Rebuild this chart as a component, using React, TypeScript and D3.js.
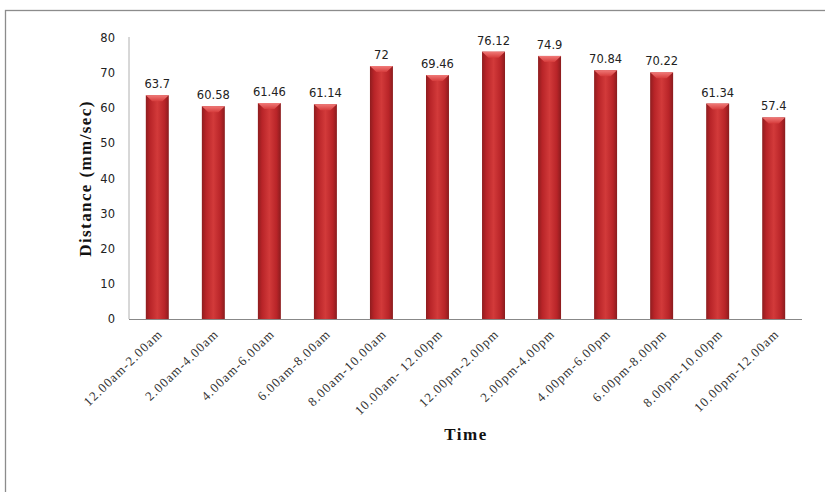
import React, { useEffect, useRef } from "react";
import * as d3 from "d3";

const timeSlots = [
  "12.00am-2.00am",
  "2.00am-4.00am",
  "4.00am-6.00am",
  "6.00am-8.00am",
  "8.00am-10.00am",
  "10.00am- 12.00pm",
  "12.00pm-2.00pm",
  "2.00pm-4.00pm",
  "4.00pm-6.00pm",
  "6.00pm-8.00pm",
  "8.00pm-10.00pm",
  "10.00pm-12.00am",
];
const distances = [63.7, 60.58, 61.46, 61.14, 72, 69.46, 76.12, 74.9, 70.84, 70.22, 61.34, 57.4];
const valueLabels = ["63.7", "60.58", "61.46", "61.14", "72", "69.46", "76.12", "74.9", "70.84", "70.22", "61.34", "57.4"];
const yTicks = [0, 10, 20, 30, 40, 50, 60, 70, 80];

export default function App() {
  const ref = useRef<SVGSVGElement>(null);

  useEffect(() => {
    const svg = d3.select(ref.current);
    svg.selectAll("*").remove();

    const left = 129;
    const right = 802;
    const top = 38;
    const bottom = 319;

    // frame around the chart
    svg
      .append("rect")
      .attr("x", 5.5)
      .attr("y", 10.5)
      .attr("width", 830)
      .attr("height", 500)
      .attr("fill", "#fff")
      .attr("stroke", "#8c8c8c")
      .attr("stroke-width", 1.3);

    const defs = svg.append("defs");
    const grad = defs
      .append("linearGradient")
      .attr("id", "barGrad")
      .attr("x1", "0")
      .attr("x2", "1")
      .attr("y1", "0")
      .attr("y2", "0");
    grad.append("stop").attr("offset", "0%").attr("stop-color", "#8e1d1f");
    grad.append("stop").attr("offset", "18%").attr("stop-color", "#b82428");
    grad.append("stop").attr("offset", "50%").attr("stop-color", "#d23a3a");
    grad.append("stop").attr("offset", "82%").attr("stop-color", "#b82428");
    grad.append("stop").attr("offset", "100%").attr("stop-color", "#8a1c1e");

    const capGrad = defs
      .append("linearGradient")
      .attr("id", "capGrad")
      .attr("x1", "0")
      .attr("x2", "0")
      .attr("y1", "0")
      .attr("y2", "1");
    capGrad.append("stop").attr("offset", "0%").attr("stop-color", "#f07a78");
    capGrad.append("stop").attr("offset", "100%").attr("stop-color", "#d63c3c");

    const x = d3.scaleBand().domain(timeSlots).range([left, right]).paddingInner(0.59).paddingOuter(0.3);
    const y = d3.scaleLinear().domain([0, 80]).range([bottom, top]);

    // y axis
    svg
      .append("line")
      .attr("x1", left)
      .attr("x2", left)
      .attr("y1", top - 1)
      .attr("y2", bottom)
      .attr("stroke", "#b0b0b0");

    svg
      .selectAll(".ytick")
      .data(yTicks)
      .enter()
      .append("text")
      .attr("x", left - 14)
      .attr("y", (d) => y(d) + 4)
      .attr("text-anchor", "end")
      .attr("font-family", "Tahoma, DejaVu Sans, sans-serif")
      .attr("font-size", 11.5)
      .attr("fill", "#222")
      .text((d) => d);

    // bars
    const g = svg.selectAll(".bar").data(distances).enter().append("g");
    g.append("rect")
      .attr("x", (_, i) => x(timeSlots[i])!)
      .attr("y", (d) => y(d))
      .attr("width", x.bandwidth())
      .attr("height", (d) => bottom - y(d))
      .attr("fill", "url(#barGrad)");
    g.append("path")
      .attr("d", (d, i) => {
        const x0 = x(timeSlots[i])!;
        const w = x.bandwidth();
        const y0 = y(d);
        return `M${x0},${y0} L${x0 + w},${y0} L${x0 + w * 0.72},${y0 + 6} L${x0 + w * 0.28},${y0 + 6} Z`;
      })
      .attr("fill", "url(#capGrad)");

    // x axis
    svg
      .append("line")
      .attr("x1", left)
      .attr("x2", right)
      .attr("y1", bottom + 0.5)
      .attr("y2", bottom + 0.5)
      .attr("stroke", "#888")
      .attr("stroke-width", 1.2);

    // value labels
    svg
      .selectAll(".vlab")
      .data(distances)
      .enter()
      .append("text")
      .attr("x", (_, i) => x(timeSlots[i])! + x.bandwidth() / 2)
      .attr("y", (d) => y(d) - 7)
      .attr("text-anchor", "middle")
      .attr("font-family", "Tahoma, DejaVu Sans, sans-serif")
      .attr("font-size", 11.5)
      .attr("fill", "#222")
      .text((_, i) => valueLabels[i]);

    // category labels
    svg
      .selectAll(".xlab")
      .data(timeSlots)
      .enter()
      .append("text")
      .attr("transform", (d) => `translate(${x(d)! + x.bandwidth() / 2 + 6},${bottom + 16}) rotate(-44)`)
      .attr("text-anchor", "end")
      .attr("font-family", "Liberation Serif, Times New Roman, serif")
      .attr("font-size", 13)
      .attr("letter-spacing", 1.1)
      .attr("fill", "#333")
      .text((d) => d);

    // axis titles
    svg
      .append("text")
      .attr("transform", `translate(91,${(top + bottom) / 2}) rotate(-90)`)
      .attr("text-anchor", "middle")
      .attr("font-family", "Liberation Serif, Times New Roman, serif")
      .attr("font-weight", "bold")
      .attr("font-size", 17)
      .attr("letter-spacing", 1.4)
      .attr("fill", "#111")
      .text("Distance (mm/sec)");

    svg
      .append("text")
      .attr("x", 466)
      .attr("y", 440)
      .attr("text-anchor", "middle")
      .attr("font-family", "Liberation Serif, Times New Roman, serif")
      .attr("font-weight", "bold")
      .attr("font-size", 17)
      .attr("letter-spacing", 1.5)
      .attr("fill", "#111")
      .text("Time");
  }, []);

  return (
    <svg
      ref={ref}
      width={825}
      height={492}
      style={{ position: "absolute", left: 0, top: 0, background: "#fff" }}
    />
  );
}
